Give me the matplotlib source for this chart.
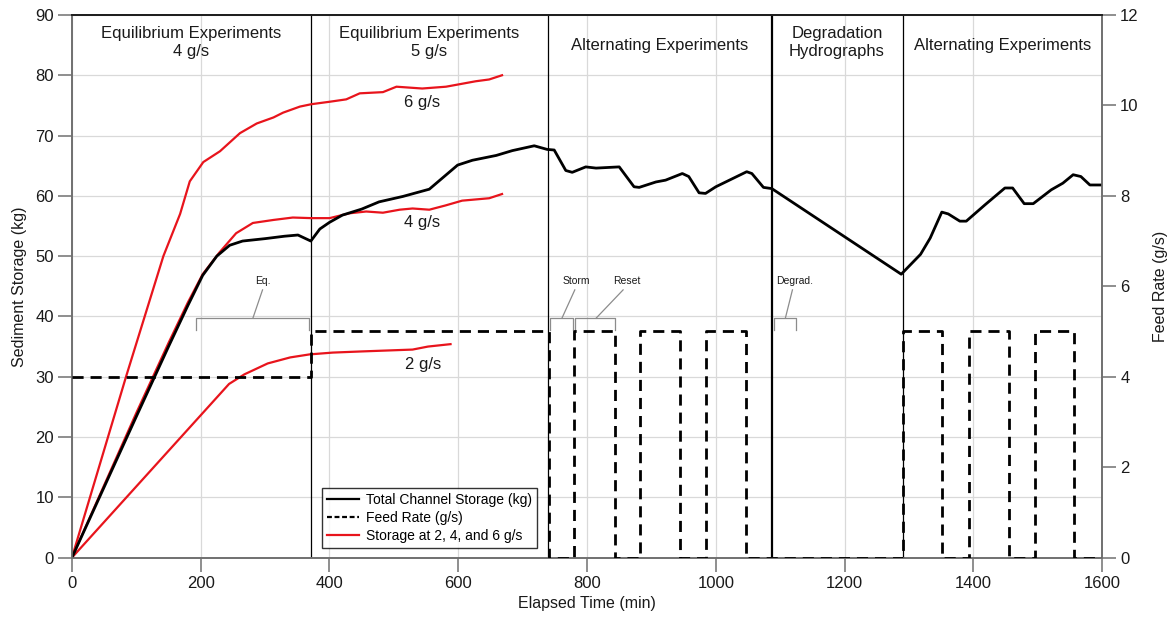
import matplotlib
matplotlib.use("Agg")
import matplotlib.pyplot as plt
from matplotlib.lines import Line2D

plt.rcParams['font.family'] = ['Liberation Sans', 'DejaVu Sans']

# Total channel storage (kg) vs elapsed time (min)
total_time = [0, 100, 150, 180, 203, 225, 245, 265, 300, 330, 351, 371, 385, 400, 420,
              450, 477, 514, 555, 599, 622, 659, 684, 718, 738, 749, 767, 777, 798,
              814, 850, 873, 881, 907, 922, 948, 958, 974, 984, 1000, 1048, 1056,
              1074, 1087, 1288, 1318, 1333, 1351, 1361, 1379, 1389, 1418, 1449,
              1461, 1479, 1493, 1521, 1539, 1555, 1567, 1581, 1600]
total_storage = [0, 23.4, 35.0, 41.8, 46.8, 50.0, 51.8, 52.5, 52.9, 53.3, 53.5, 52.5,
                 54.5, 55.6, 56.8, 57.8, 59.0, 59.9, 61.1, 65.1, 65.9, 66.7, 67.5,
                 68.3, 67.7, 67.6, 64.2, 63.9, 64.8, 64.6, 64.8, 61.5, 61.4, 62.3,
                 62.6, 63.7, 63.2, 60.5, 60.4, 61.5, 64.0, 63.7, 61.4, 61.2, 47.0,
                 50.3, 53.0, 57.3, 57.0, 55.8, 55.8, 58.5, 61.3, 61.3, 58.7, 58.7,
                 61.0, 62.1, 63.5, 63.2, 61.8, 61.8]

# Equilibrium storage runs at constant feed
eq6_time = [0, 84, 142, 168, 183, 204, 230, 261, 287, 313, 328, 354, 372, 400, 426,
            447, 483, 504, 544, 581, 627, 648, 668]
eq6_storage = [0, 30.0, 50.0, 57.0, 62.4, 65.6, 67.4, 70.4, 72.0, 73.0, 73.8, 74.8,
               75.2, 75.6, 76.0, 77.0, 77.2, 78.1, 77.8, 78.1, 79.0, 79.3, 80.0]

eq4_time = [0, 100, 150, 180, 203, 229, 255, 281, 313, 343, 372, 400, 431, 457, 483,
            509, 529, 555, 580, 606, 648, 668]
eq4_storage = [0, 24.0, 35.6, 42.3, 47.0, 50.6, 53.8, 55.5, 56.0, 56.4, 56.3, 56.3,
               57.1, 57.4, 57.2, 57.7, 57.9, 57.7, 58.4, 59.2, 59.6, 60.3]

eq2_time = [0, 244, 268, 304, 339, 369, 405, 452, 529, 553, 588]
eq2_storage = [0, 28.8, 30.4, 32.2, 33.2, 33.7, 34.0, 34.2, 34.5, 35.0, 35.4]

# Sediment feed rate schedule (g/s), stepwise
feed_time = [0, 371, 741, 780, 843, 883, 944, 984, 1047, 1291, 1351, 1393, 1455,
             1495, 1557, 1600]
feed_rate = [4, 5, 0, 5, 0, 5, 0, 5, 0, 5, 0, 5, 0, 5, 0, 0]

# Experiment phases
phase_bounds = [371, 739, 1087, 1290]
phase_titles = ["Equilibrium Experiments\n4 g/s", "Equilibrium Experiments\n5 g/s",
                "Alternating Experiments", "Degradation\nHydrographs",
                "Alternating Experiments"]
phase_centers = [185, 555, 913, 1188, 1445]

curve_labels = ["6 g/s", "4 g/s", "2 g/s"]
curve_label_pos = [(544, 75.4), (544, 55.5), (545, 32.0)]

fig = plt.figure(figsize=(11.68, 6.23), dpi=100)
ax = fig.add_axes([0.0616, 0.105, 0.882, 0.871])
ax2 = ax.twinx()

grid_c = '#d9d9d9'
ax.set_xlim(0, 1600)
ax.set_ylim(0, 90)
ax.set_xticks(range(0, 1601, 200))
ax.set_yticks(range(0, 91, 10))
ax.grid(True, color=grid_c, lw=0.9)
ax.set_axisbelow(True)

ax2.set_ylim(0, 12)
ax2.set_yticks(range(0, 13, 2))

for a in (ax, ax2):
    for s in ('left', 'right', 'bottom'):
        a.spines[s].set_color('#707070')
        a.spines[s].set_linewidth(1.2)
    a.spines['top'].set_color('#202020')
    a.spines['top'].set_linewidth(1.4)
    a.tick_params(length=10, width=1.1, color='#707070', labelsize=12,
                  labelcolor='#1a1a1a', pad=3)

ax.set_xlabel("Elapsed Time (min)", fontsize=11.5, color='#1a1a1a', labelpad=4)
ax.set_ylabel("Sediment Storage (kg)", fontsize=11.5, color='#1a1a1a', labelpad=6)
ax2.set_ylabel("Feed Rate (g/s)", fontsize=11.5, color='#1a1a1a', labelpad=10)

# phase separators
for i, b in enumerate(phase_bounds):
    ax.axvline(b, color='black', lw=1.6 if i == 2 else 0.9, zorder=2)

for t, xc in zip(phase_titles, phase_centers):
    y = 85.0 if "\n" not in t else 85.5
    ax.text(xc, y, t, ha='center', va='center', fontsize=12, color='#1a1a1a',
            linespacing=1.25)

# storage curves
red = '#e8141c'
ax.plot(eq6_time, eq6_storage, color=red, lw=1.6, zorder=4)
ax.plot(eq4_time, eq4_storage, color=red, lw=1.6, zorder=4)
ax.plot(eq2_time, eq2_storage, color=red, lw=1.6, zorder=4)
ax.plot(total_time, total_storage, color='black', lw=2.0, zorder=5)

for lab, (xl, yl) in zip(curve_labels, curve_label_pos):
    ax.text(xl, yl, lab, ha='center', va='center', fontsize=12, color='#1a1a1a')

# feed rate on the secondary axis
ax2.step(feed_time, feed_rate, where='post', color='black', lw=2.0,
         ls=(0, (4, 2.5)), zorder=3)

# phase brackets
br_c = '#8c8c8c'
bracket_y, tick_y = 39.7, 37.8
brackets = [(192, 368, "Eq.", (296, 45.9), (296, 44.4), (281, bracket_y)),
            (742, 778, "Storm", (783, 45.9), (781, 44.4), (761, bracket_y)),
            (781, 843, "Reset", (862, 45.9), (856, 44.4), (814, bracket_y)),
            (1090, 1124, "Degrad.", (1123, 45.9), (1119, 44.4), (1108, bracket_y))]
for x0, x1, lab, lpos, l0, l1 in brackets:
    ax.plot([x0, x0, x1, x1], [tick_y, bracket_y, bracket_y, tick_y], color=br_c,
            lw=0.9, zorder=3)
    ax.plot([l0[0], l1[0]], [l0[1], l1[1]], color=br_c, lw=0.9, zorder=3)
    ax.text(lpos[0], lpos[1], lab, ha='center', va='center', fontsize=7.5,
            color='#1a1a1a')

handles = [Line2D([], [], color='black', lw=1.6),
           Line2D([], [], color='black', lw=1.6, ls=(0, (2.2, 1.2))),
           Line2D([], [], color=red, lw=1.6)]
labels = ["Total Channel Storage (kg)", "Feed Rate (g/s)", "Storage at 2, 4, and 6 g/s"]
leg = ax2.legend(handles, labels, loc='lower left', bbox_to_anchor=(0.243, 0.018),
                 fontsize=10, frameon=True, fancybox=False, borderpad=0.35,
                 handlelength=2.3, handletextpad=0.5, labelspacing=0.3,
                 borderaxespad=0)
leg.get_frame().set_edgecolor('black')
leg.get_frame().set_linewidth(1.0)

fig.savefig("out.png", dpi=100)
